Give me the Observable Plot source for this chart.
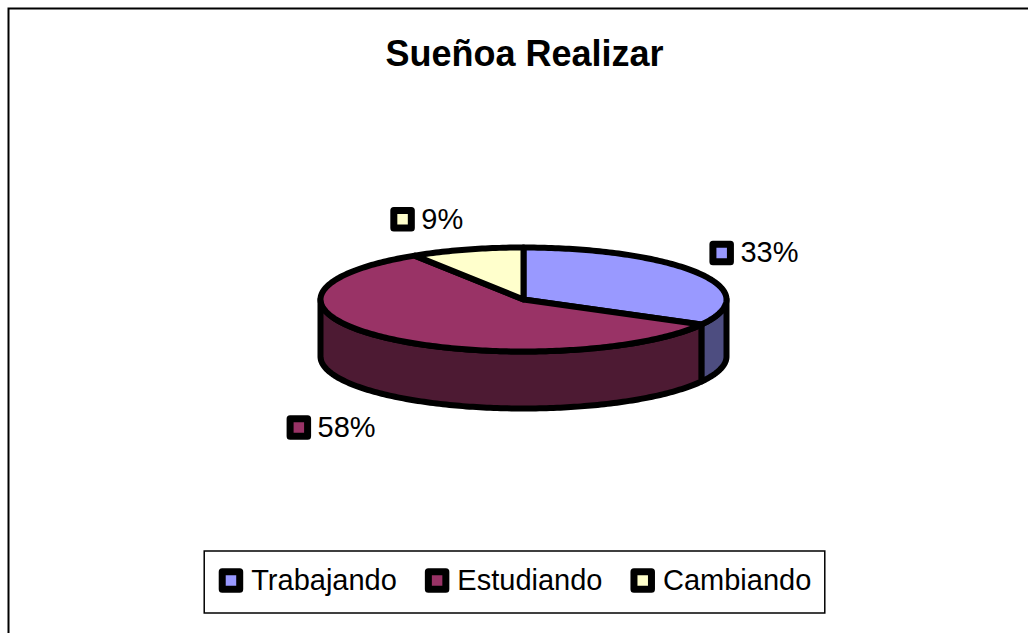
<!DOCTYPE html>
<html><head><meta charset="utf-8">
<script src="https://cdn.jsdelivr.net/npm/d3@7"></script>
<script src="https://cdn.jsdelivr.net/npm/@observablehq/plot@0.6"></script>
<style>html,body{margin:0;padding:0;background:#fff;overflow:hidden}</style>
</head><body><div id="chart"></div>
<script>
// ---- data ----
const title = "Sueñoa Realizar";
const categories = ["Trabajando", "Estudiando", "Cambiando"];
const values = [33, 58, 9];
const topColors = ["#9999FF", "#993366", "#FFFFCC"];
const sideColors = ["#4D4D80", "#4D1A33", "#80806A"];

// ---- layout ----
const W = 1028, H = 633;
const cx = 523, cy = 299, rx = 203, ry = 52, depth = 57;
const FONT = '"Liberation Sans", Arial, Helvetica, sans-serif';
const LF = 29;           // label / legend font size
const K = 24.5;          // key outer size
const SW = 6;            // pie outline width

const total = d3.sum(values);
let acc = 0;
const slices = categories.map((c, i) => {
  const a0 = acc / total * 360; acc += values[i];
  const a1 = acc / total * 360;
  return {c, i, a0, a1, v: values[i]};
});
const rad = d => d * Math.PI / 180;
const pt = (a, dy = 0) => ({x: cx + rx * Math.sin(rad(a)), y: cy - ry * Math.cos(rad(a)) + dy});
function arc(a0, a1, dy = 0) {
  const n = Math.max(2, Math.ceil(a1 - a0));
  return d3.range(n + 1).map(k => pt(a0 + (a1 - a0) * k / n, dy));
}
const tops = slices.map(s => [{x: cx, y: cy}, ...arc(s.a0, s.a1)]);
const sides = slices.map(s => {
  const a0 = Math.max(s.a0, 90), a1 = Math.min(s.a1, 270);
  if (a1 <= a0) return null;
  return [...arc(a0, a1), ...arc(a0, a1, depth).reverse()];
});

const ctx = document.createElement("canvas").getContext("2d");
const tw = (t, size, weight = "normal") => { ctx.font = `${weight} ${size}px ${FONT}`; return ctx.measureText(t).width; };

// label boxes: nearest corner sits on a larger ellipse around the pie
const lrx = rx + 13, lry = ry + 23, lcy = cy + 4;
const labels = slices.map(s => {
  const m = (s.a0 + s.a1) / 2, sn = Math.sin(rad(m)), cs = Math.cos(rad(m));
  const X = cx + lrx * sn, Y = lcy - lry * cs + (cs < 0 ? depth : 0);
  const text = Math.round(s.v / total * 100) + "%";
  const w = tw(text, LF);
  const left = sn >= 0 ? X : X - w - K - 6.5;
  const yc = cs >= 0 ? Y - K / 2 : Y + K / 2;
  return {text, c: s.c, kx: left + K / 2, tx: left + K + 6.5, y: yc};
});

const LW = categories.map(c => tw(c, LF));
const itemW = LW.map(w => K + 8 + w);
const spacing = 28, pad = 14;
const totalW = d3.sum(itemW) + spacing * (categories.length - 1);
const legCx = 514.5, legCy = 580;
let xx = legCx - totalW / 2;
const legend = categories.map((c, i) => {
  const o = {c, kx: xx + K / 2, tx: xx + K + 8, y: legCy};
  xx += itemW[i] + spacing;
  return o;
});
const legendBox = [{x1: legCx - totalW / 2 - pad, x2: legCx + totalW / 2 + pad, y1: legCy - 29, y2: legCy + 33}];

const color = {domain: categories, range: topColors};
const sideMarks = sides.map((s, i) => s && Plot.line(s, {x: "x", y: "y", curve: "linear-closed", fill: sideColors[i], stroke: "black", strokeWidth: SW, strokeLinejoin: "round"})).filter(Boolean);
const topMarks = tops.map((t, i) => Plot.line(t, {x: "x", y: "y", curve: "linear-closed", fill: topColors[i], stroke: "black", strokeWidth: SW, strokeLinejoin: "round"}));

const chart = Plot.plot({
  width: W, height: H, margin: 0,
  x: {domain: [0, W], axis: null},
  y: {domain: [H, 0], axis: null},
  color,
  style: {fontFamily: FONT, background: "white", color: "black"},
  marks: [
    Plot.frame({stroke: "black", strokeWidth: 2, insetLeft: 8, insetTop: 8, insetRight: -20, insetBottom: -20}),
    Plot.text([title], {frameAnchor: "top", dy: 54, dx: 10, lineAnchor: "middle", fontSize: 36, fontWeight: "bold", fill: "black"}),
    ...sideMarks,
    ...topMarks,
    Plot.dot(labels, {x: "kx", y: "y", symbol: "square", r: 17.5 / Math.sqrt(Math.PI), fill: "c", stroke: "black", strokeWidth: 7, strokeLinejoin: "round"}),
    Plot.text(labels, {x: "tx", y: "y", text: "text", textAnchor: "start", lineAnchor: "middle", fontSize: LF, fill: "black"}),
    Plot.rect(legendBox, {x1: "x1", x2: "x2", y1: "y1", y2: "y2", fill: "none", stroke: "black", strokeWidth: 1.5}),
    Plot.dot(legend, {x: "kx", y: "y", symbol: "square", r: 17.5 / Math.sqrt(Math.PI), fill: "c", stroke: "black", strokeWidth: 7, strokeLinejoin: "round"}),
    Plot.text(legend, {x: "tx", y: "y", text: "c", textAnchor: "start", lineAnchor: "middle", fontSize: LF, fill: "black"})
  ]
});
document.getElementById("chart").appendChild(chart);
</script>
</body></html>
